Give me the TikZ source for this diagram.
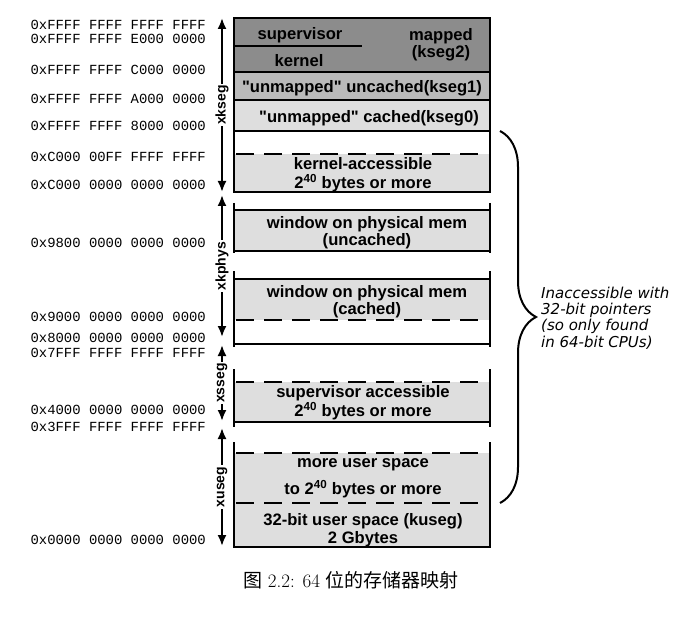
\documentclass[tikz,border=0pt]{standalone}
\usepackage{fontspec}
\newfontfamily\boxfont{Liberation Sans}
\newfontfamily\addrfont{Liberation Mono}
\newfontfamily\notefont{DejaVu Sans}
\newfontfamily\cjk{Noto Sans CJK SC}
\usetikzlibrary{arrows.meta, decorations.pathreplacing}
\tikzset{>={Latex[length=11pt, width=9pt]}}
\tikzset{every text node part/.style={align=center}}
\tikzset{
	boxtext/.style={font=\boxfont\bfseries\fontsize{16.6}{17}\selectfont, inner sep=0pt},
	addr/.style={font=\addrfont\fontsize{13.9}{14}\selectfont, anchor=east, inner sep=0pt},
	seglabel/.style={font=\boxfont\bfseries\fontsize{14}{14}\selectfont, rotate=90, fill=white, inner sep=1.5pt},
	boxline/.style={line width=2pt},
	dashline/.style={line width=2pt, dash pattern=on 18pt off 10pt},
	note/.style={font=\notefont\itshape\fontsize{15}{16.3}\selectfont, every text node part/.style={align=left}, anchor=west, inner sep=0pt}
}
\definecolor{kdark}{gray}{0.55}
\definecolor{kmid}{gray}{0.73}
\definecolor{klight}{gray}{0.87}
\newcommand{\sides}[2]{%
	\draw[boxline] (234,#1) -- (234,#2);
	\draw[boxline] (490,#1) -- (490,#2);
}
\newcommand{\band}[3]{\fill[#3] (234,#1) rectangle (490,#2);}
\newcommand{\segline}[1]{\draw[boxline] (234,#1) -- (490,#1);}
\newcommand{\segdash}[1]{\draw[dashline] (236,#1) -- (480,#1);}

\begin{document}
\begin{tikzpicture}[x=1pt, y=-1pt]
	\useasboundingbox (0,0) rectangle (698,620);

	% Kernel Segments
	\band{18}{72}{kdark}
	\band{72}{100}{kmid}
	\band{100}{131}{klight}
	\band{154}{192}{klight}
	\foreach \y in {72,100,131}
		\segline{\y}
	\draw[boxline] (234,46) -- (362,46);
	\segdash{154}
	\draw[boxline] (234,18) rectangle (490,192);

	% Physical Windows
	\band{210}{251}{klight}
	\segline{210}
	\segline{251}
	\sides{203}{253}
	%
	\band{279}{320}{klight}
	\segline{279}
	\segdash{320}
	\segline{344}
	\sides{271}{347}

	% Supervisor and User
	\band{382}{422}{klight}
	\segdash{382}
	\segline{422}
	\sides{369}{427}
	%
	\band{453}{547}{klight}
	\segdash{453}
	\segdash{503}
	\segline{547}
	\sides{442}{548}

	% Nodes
	\node[boxtext] (sup) at (300,35) {supervisor};
	\node[boxtext] (ker) at (299,61) {kernel};
	\node[boxtext] (map) at (441,45) {mapped\\(kseg2)};
	\node[boxtext] (kone) at (362,88) {"unmapped" uncached(kseg1)};
	\node[boxtext] (kzero) at (369,118) {"unmapped" cached(kseg0)};
	\node[boxtext] (kacc) at (363,175) {kernel-accessible\\[2pt]2\textsuperscript{40} bytes or more};
	\node[boxtext] (unc) at (367,233) {window on physical mem\\(uncached)};
	\node[boxtext] (cac) at (367,302) {window on physical mem\\(cached)};
	\node[boxtext] (sacc) at (363,403) {supervisor accessible\\2\textsuperscript{40} bytes or more};
	\node[boxtext] (more) at (363,465) {more user space};
	\node[boxtext] (tomore) at (363,489) {to 2\textsuperscript{40} bytes or more};
	\node[boxtext] (kuseg) at (363,521) {32-bit user space (kuseg)};
	\node[boxtext] (gb) at (363,539) {2 Gbytes};

	% Addresses
	\foreach \y/\addr [count=\i] in {25/0xFFFF FFFF FFFF FFFF, 39/0xFFFF FFFF E000 0000,
		70/0xFFFF FFFF C000 0000, 99/0xFFFF FFFF A000 0000, 126/0xFFFF FFFF 8000 0000,
		157/0xC000 00FF FFFF FFFF, 185/0xC000 0000 0000 0000, 243/0x9800 0000 0000 0000,
		317/0x9000 0000 0000 0000, 338/0x8000 0000 0000 0000, 353/0x7FFF FFFF FFFF FFFF,
		410/0x4000 0000 0000 0000, 427/0x3FFF FFFF FFFF FFFF, 540/0x0000 0000 0000 0000}
		\node[addr] (addr\i) at (206,\y) {\addr};

	% Segment Arrows
	\coordinate (xk-top) at (222,18);
	\coordinate (xk-bot) at (222,192);
	\coordinate (xp-top) at (222,195);
	\coordinate (xp-bot) at (222,337);
	\coordinate (xs-top) at (222,345);
	\coordinate (xs-bot) at (222,421);
	\coordinate (xu-top) at (222,428);
	\coordinate (xu-bot) at (222,546);
	\draw[<->, line width=2pt] (xk-bot) -- (xk-top) node[midway, seglabel] (xk) {xkseg};
	\draw[<->, line width=2pt] (xp-bot) -- (xp-top) node[midway, seglabel] (xp) {xkphys};
	\draw[<->, line width=2pt] (xs-bot) -- (xs-top) node[midway, seglabel] (xs) {xsseg};
	\draw[<->, line width=2pt] (xu-bot) -- (xu-top) node[midway, seglabel] (xu) {xuseg};

	% Brace
	\coordinate (br-top) at (500,131);
	\coordinate (br-bot) at (500,503);
	\draw[line width=2pt, decorate, decoration={brace, amplitude=36pt}] (br-top) -- (br-bot);
	\node[note] (inacc) at (541,318) {Inaccessible with\\32-bit pointers\\(so only found\\in 64-bit CPUs)};

	% Caption
	\node[font=\fontsize{19}{20}\selectfont] (cap) at (351,580) {{\cjk 图} 2.2: 64 {\cjk 位的存储器映射}};
\end{tikzpicture}
\end{document}
